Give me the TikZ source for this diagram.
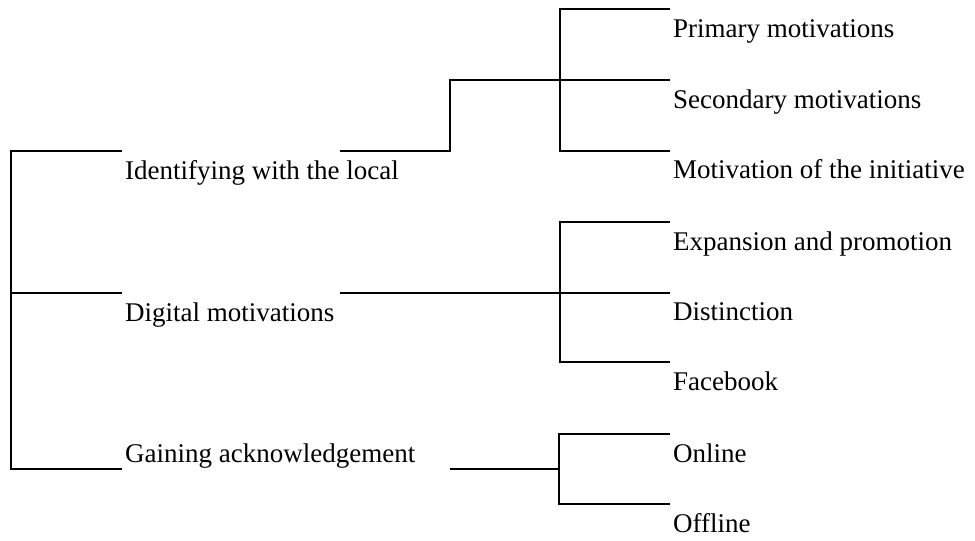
\documentclass[tikz,border=0pt]{standalone}
\usepackage{fontspec}
\setmainfont{Liberation Serif}
\begin{document}
\begin{tikzpicture}[x=1pt,y=-1pt,
  lbl/.style={anchor=base west,inner sep=0pt,font=\fontsize{27}{30}\selectfont},
  wire/.style={line width=2pt,line join=miter,black}]
\useasboundingbox (0,0) rectangle (975,541);
% labels
\node[lbl] (idl) at (125,179) {Identifying with the local};
\node[lbl] (dig) at (125,321) {Digital motivations};
\node[lbl] (gai) at (125,462) {Gaining acknowledgement};
\node[lbl] (pm) at (673,37) {Primary motivations};
\node[lbl] (sm) at (673,108) {Secondary motivations};
\node[lbl] (mi) at (673,178) {Motivation of the initiative};
\node[lbl] (ep) at (673,250) {Expansion and promotion};
\node[lbl] (di) at (673,320) {Distinction};
\node[lbl] (fb) at (673,390) {Facebook};
\node[lbl] (on) at (673,462) {Online};
\node[lbl] (of) at (673,532) {Offline};
% coordinates
\coordinate (a1) at (122,150.7);
\coordinate (a2) at (122,292.7);
\coordinate (a3) at (122,469.3);
\coordinate (b1) at (340,150.7);
\coordinate (b2) at (340,292.7);
\coordinate (b3) at (450,469.3);
\coordinate (pmL) at (670,9);
\coordinate (smL) at (670,80);
\coordinate (miL) at (670,150.7);
\coordinate (epL) at (670,222);
\coordinate (diL) at (670,292.7);
\coordinate (fbL) at (670,362);
\coordinate (onL) at (670,434);
\coordinate (ofL) at (670,504);
% left bracket
\draw[wire] (a1) -- (11,150.7) -- (11,469.3) -- (a3);
\draw[wire] (11,292.7) -- (a2);
% identifying branch
\draw[wire] (b1) -- (450,150.7) -- (450,80) -- (smL);
\draw[wire] (pmL) -- (560,9) -- (560,150.7) -- (miL);
% digital branch
\draw[wire] (b2) -- (diL);
\draw[wire] (epL) -- (560,222) -- (560,362) -- (fbL);
% gaining branch
\draw[wire] (b3) -- (559,469.3);
\draw[wire] (onL) -- (559,434) -- (559,504) -- (ofL);
\end{tikzpicture}
\end{document}
